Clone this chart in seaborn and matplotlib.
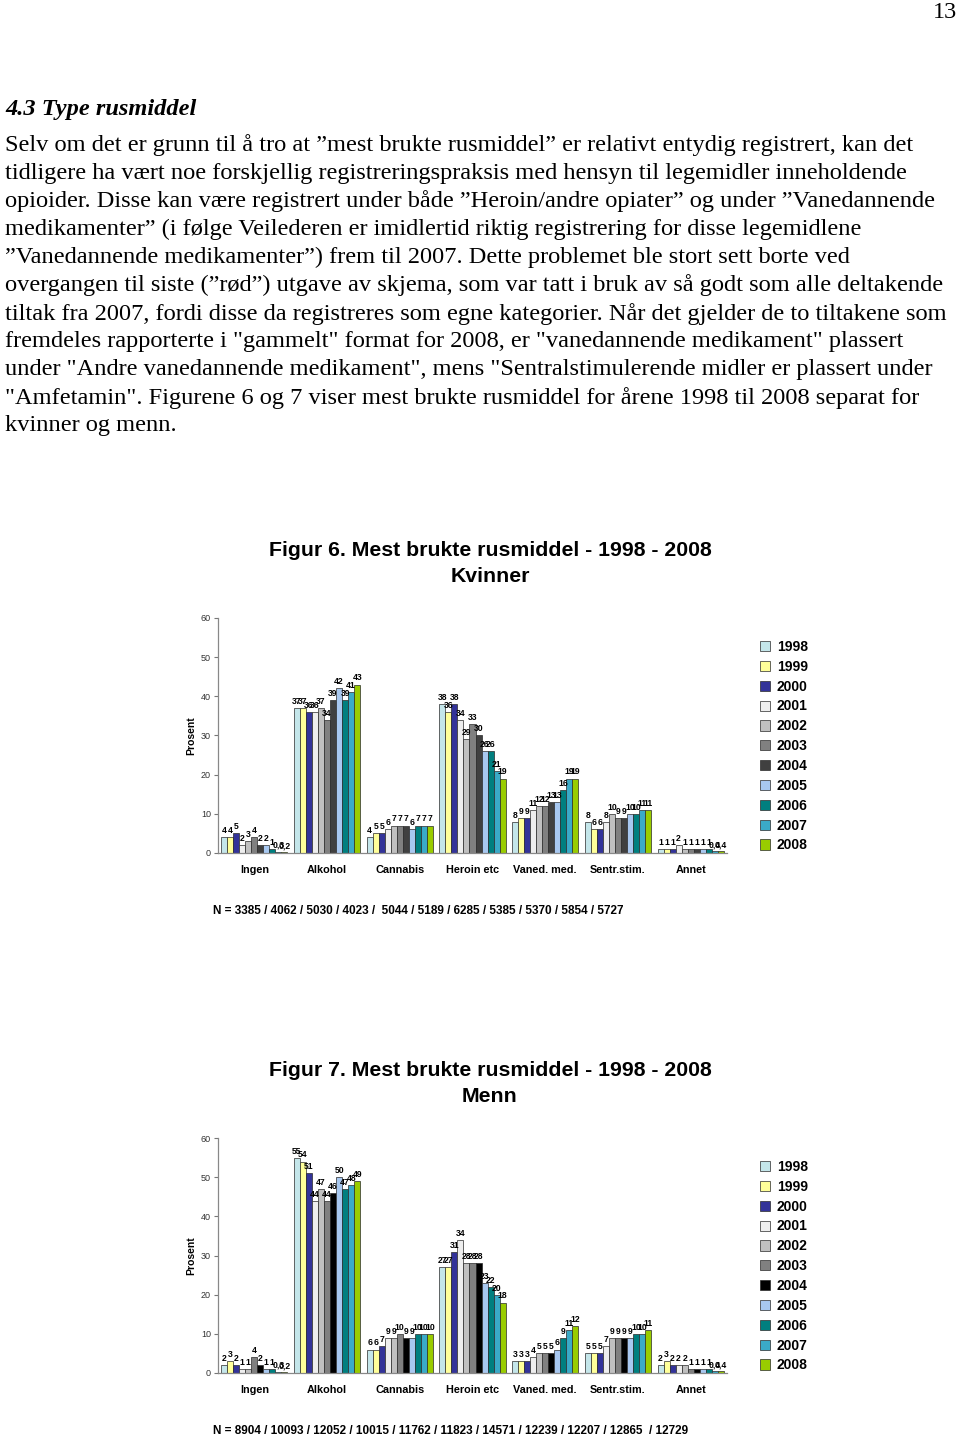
import pandas as pd
import seaborn as sns
import matplotlib.pyplot as plt

# Years (hue) and substance categories
years = ['1998', '1999', '2000', '2001', '2002', '2003', '2004', '2005', '2006', '2007', '2008']
categories = ['Ingen', 'Alkohol', 'Cannabis', 'Heroin etc', 'Vaned. med.', 'Sentr.stim.', 'Annet']

# Figur 6 - Kvinner (percent per year)
kv_ingen = [4, 4, 5, 2, 3, 4, 2, 2, 1, 0.3, 0.2]
kv_alkohol = [37, 37, 36, 36, 37, 34, 39, 42, 39, 41, 43]
kv_cannabis = [4, 5, 5, 6, 7, 7, 7, 6, 7, 7, 7]
kv_heroin = [38, 36, 38, 34, 29, 33, 30, 26, 26, 21, 19]
kv_vaned = [8, 9, 9, 11, 12, 12, 13, 13, 16, 19, 19]
kv_sentr = [8, 6, 6, 8, 10, 9, 9, 10, 10, 11, 11]
kv_annet = [1, 1, 1, 2, 1, 1, 1, 1, 1, 0.4, 0.4]

# Figur 7 - Menn
me_ingen = [2, 3, 2, 1, 1, 4, 2, 1, 1, 0.3, 0.2]
me_alkohol = [55, 54, 51, 44, 47, 44, 46, 50, 47, 48, 49]
me_cannabis = [6, 6, 7, 9, 9, 10, 9, 9, 10, 10, 10]
me_heroin = [27, 27, 31, 34, 28, 28, 28, 23, 22, 20, 18]
me_vaned = [3, 3, 3, 4, 5, 5, 5, 6, 9, 11, 12]
me_sentr = [5, 5, 5, 7, 9, 9, 9, 9, 10, 10, 11]
me_annet = [2, 3, 2, 2, 2, 1, 1, 1, 1, 0.4, 0.4]

kv_n = 'N = 3385 / 4062 / 5030 / 4023 /  5044 / 5189 / 6285 / 5385 / 5370 / 5854 / 5727'
me_n = 'N = 8904 / 10093 / 12052 / 10015 / 11762 / 11823 / 14571 / 12239 / 12207 / 12865  / 12729'

colors_kv = ['#c4e6ea', '#ffff99', '#333399', '#eeeeee', '#c0c0c0', '#808080',
             '#404040', '#a8c8f0', '#007f7f', '#3aaac8', '#99cc00']
colors_me = colors_kv[:6] + ['#000000'] + colors_kv[7:]

paragraph = [
    'Selv om det er grunn til å tro at ”mest brukte rusmiddel” er relativt entydig registrert, kan det',
    'tidligere ha vært noe forskjellig registreringspraksis med hensyn til legemidler inneholdende',
    'opioider. Disse kan være registrert under både ”Heroin/andre opiater” og under ”Vanedannende',
    'medikamenter” (i følge Veilederen er imidlertid riktig registrering for disse legemidlene',
    '”Vanedannende medikamenter”) frem til 2007. Dette problemet ble stort sett borte ved',
    'overgangen til siste (”rød”) utgave av skjema, som var tatt i bruk av så godt som alle deltakende',
    'tiltak fra 2007, fordi disse da registreres som egne kategorier. Når det gjelder de to tiltakene som',
    'fremdeles rapporterte i "gammelt" format for 2008, er "vanedannende medikament" plassert',
    'under "Andre vanedannende medikament", mens "Sentralstimulerende midler er plassert under',
    '"Amfetamin". Figurene 6 og 7 viser mest brukte rusmiddel for årene 1998 til 2008 separat for',
    'kvinner og menn.',
]

sns.set_style('white')
plt.rcParams['font.family'] = ['Liberation Sans', 'DejaVu Sans']
plt.rcParams['text.color'] = 'black'
plt.rcParams['axes.labelcolor'] = 'black'
plt.rcParams['xtick.color'] = 'black'

W, H = 960, 1438
fig = plt.figure(figsize=(W / 100, H / 100), dpi=100)


def fy(y):
    return 1 - y / H


def fmt(v):
    return str(int(v)) if v == int(v) else f'{v:.1f}'.replace('.', ',')


# Page text
serif = ['Liberation Serif', 'DejaVu Serif']
fig.text(957 / W, fy(13), '13', ha='right', va='center', fontsize=17.5, family=serif)
fig.text(5 / W, fy(110), '4.3 Type rusmiddel', ha='left', va='center', fontsize=17.6,
         family=serif, weight='bold', style='italic')
for i, line in enumerate(paragraph):
    fig.text(5 / W, fy(145 + i * 28.1), line, ha='left', va='center', fontsize=17.6, family=serif)


def draw_chart(top0, y60, title, sub, n_text, data, colors):
    df = pd.DataFrame(
        [(c, yr, v) for c, vals in zip(categories, data) for yr, v in zip(years, vals)],
        columns=['Rusmiddel', 'År', 'Prosent'])
    ax = fig.add_axes([218 / W, fy(top0), (727 - 218) / W, (top0 - y60) / H])
    sns.barplot(data=df, x='Rusmiddel', y='Prosent', hue='År', palette=colors, ax=ax,
                width=0.91, edgecolor='#2a2a2a', linewidth=0.5, errorbar=None, saturation=1)
    for j, cont in enumerate(ax.containers):
        ax.bar_label(cont, labels=[fmt(d[j]) for d in data], fontsize=6.2,
                     padding=1.5, weight='bold')
    ax.set_ylim(0, 60)
    ax.set_xlim(-0.5, 6.5)
    ax.set_yticks(range(0, 61, 10))
    ax.tick_params(axis='y', length=3, width=0.8, color='#777777', labelsize=6.5,
                   labelcolor='#333333', pad=2, left=True)
    ax.tick_params(axis='x', length=0, pad=8.5, labelsize=7.8)
    for lab in ax.get_xticklabels():
        lab.set_fontweight('bold')
    ax.set_xlabel('')
    ax.set_ylabel('Prosent', fontsize=7.5, weight='bold')
    ax.yaxis.set_label_coords(-0.043, 0.5)
    for s in ['top', 'right']:
        ax.spines[s].set_visible(False)
    for s in ['left', 'bottom']:
        ax.spines[s].set_color('#888888')
        ax.spines[s].set_linewidth(0.9)
    handles, labels = ax.get_legend_handles_labels()
    ax.legend(handles, labels, loc='upper left', bbox_to_anchor=(760 / W, fy(y60 + 22)),
              bbox_transform=fig.transFigure, frameon=False,
              prop={'weight': 'bold', 'size': 10}, handlelength=0.75, handleheight=0.75,
              handletextpad=0.45, labelspacing=0.42, borderpad=0, borderaxespad=0)
    fig.text(490 / W, fy(y60 - 68), title, ha='center', va='center', fontsize=15.3,
             weight='bold')
    fig.text(490 / W, fy(y60 - 41), sub, ha='center', va='center', fontsize=15.3,
             weight='bold')
    fig.text(213 / W, fy(top0 + 58), n_text, ha='left', va='center', fontsize=8.5,
             weight='bold')


draw_chart(853, 618, 'Figur 6. Mest brukte rusmiddel - 1998 - 2008', 'Kvinner', kv_n,
           [kv_ingen, kv_alkohol, kv_cannabis, kv_heroin, kv_vaned, kv_sentr, kv_annet],
           colors_kv)
draw_chart(1373, 1138, 'Figur 7. Mest brukte rusmiddel - 1998 - 2008', 'Menn', me_n,
           [me_ingen, me_alkohol, me_cannabis, me_heroin, me_vaned, me_sentr, me_annet],
           colors_me)

fig.savefig('out.png', dpi=100)
